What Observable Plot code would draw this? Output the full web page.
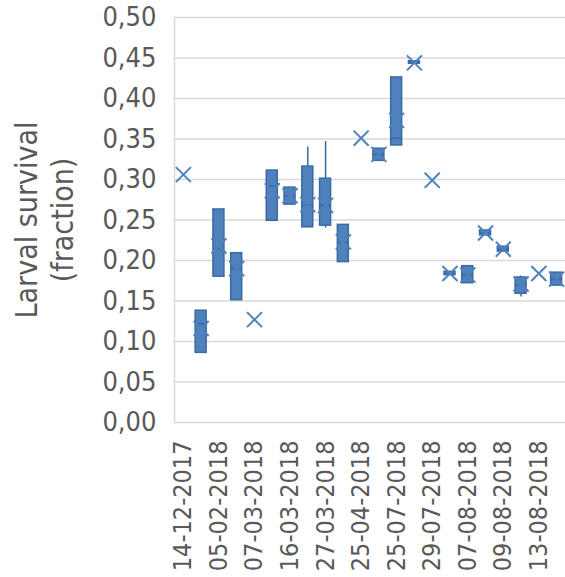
<!DOCTYPE html>
<html>
<head>
<meta charset="utf-8">
<script src="https://cdn.jsdelivr.net/npm/d3@7"></script>
<script src="https://cdn.jsdelivr.net/npm/@observablehq/plot@0.6"></script>
<style>
  html, body { margin: 0; padding: 0; background: #fff; overflow: hidden; }
</style>
</head>
<body>
<div id="chart"></div>
<script>
// Sample index (one box per sampling event); only every other one is labelled
const sampleIndex = d3.range(22);
const tickLabels = ["14-12-2017","05-02-2018","07-03-2018","16-03-2018","27-03-2018","25-04-2018","25-07-2018","29-07-2018","07-08-2018","09-08-2018","13-08-2018"];
const yTicks = [0,0.05,0.10,0.15,0.20,0.25,0.30,0.35,0.40,0.45,0.50];

// Box-plot statistics per sample (null = single value, no box)
const meanVal   = [0.306,0.116,0.218,0.190,0.127,0.286,0.280,0.269,0.268,0.223,0.351,0.331,0.373,0.444,0.299,0.184,0.182,0.234,0.214,0.171,0.184,0.177];
const q1Val     = [null, 0.086,0.180,0.151,null, 0.249,0.269,0.241,0.243,0.198,null, 0.323,0.342,0.443,null, 0.182,0.172,0.231,0.211,0.159,null, 0.169];
const q3Val     = [null, 0.138,0.263,0.209,null, 0.311,0.290,0.316,0.301,0.244,null, 0.338,0.426,0.446,null, 0.186,0.193,0.237,0.217,0.179,null, 0.185];
const medianVal = [null, 0.122,0.214,0.190,null, 0.292,0.280,0.268,0.268,0.222,null, 0.331,0.351,0.444,null, 0.184,0.182,0.234,0.214,0.169,null, 0.177];
const whiskMin  = [null, null, null, null, null, null, null, null, 0.240,null, null, null, null, null, null, null, null, null, null, 0.155,null, null];
const whiskMax  = [null, null, null, null, null, null, null, 0.340,0.347,null, null, null, null, null, null, null, null, null, null, 0.181,null, null];

const rows = sampleIndex.map(i => ({
  i, mean: meanVal[i], q1: q1Val[i], q3: q3Val[i], median: medianVal[i],
  lo: whiskMin[i] ?? q1Val[i], hi: whiskMax[i] ?? q3Val[i]
}));
const boxes = rows.filter(d => d.q1 != null);
const whiskers = rows.filter(d => whiskMin[d.i] != null || whiskMax[d.i] != null);
const labelRows = tickLabels.map((t, k) => ({ i: k * 2, t }));

const blue = "#4f81bd", dark = "#3a6aa3", grid = "#d9d9d9", txt = "#595959";
const font = "'DejaVu Sans Condensed', 'DejaVu Sans', sans-serif";

const chart = Plot.plot({
  width: 565,
  height: 577,
  marginTop: 17,
  marginBottom: 155,
  marginLeft: 174,
  marginRight: 0,
  style: { fontFamily: font, color: txt, background: "#fff", overflow: "hidden" },
  x: { type: "band", domain: sampleIndex, padding: 0, round: false, axis: null },
  y: { domain: [0, 0.5] },
  marks: [
    Plot.ruleY(yTicks, { stroke: grid, strokeWidth: 1.5 }),
    Plot.frame({ anchor: "left", stroke: grid, strokeWidth: 1.5 }),
    Plot.axisY(yTicks, {
      tickSize: 0, tickPadding: 18, fontSize: 27,
      tickFormat: d => d.toFixed(2).replace(".", ","), label: null
    }),
    Plot.text(labelRows, {
      x: "i", text: "t", frameAnchor: "bottom", dy: 18, rotate: -90,
      textAnchor: "end", lineAnchor: "middle", fontSize: 25, fill: txt
    }),
    Plot.text(["Larval survival\n(fraction)"], {
      frameAnchor: "left", rotate: -90, dx: -131, fontSize: 30,
      lineHeight: 1.2, textAnchor: "middle", lineAnchor: "middle", fill: txt
    }),
    Plot.ruleX(whiskers, { x: "i", y1: "lo", y2: "hi", stroke: dark, strokeWidth: 1.5 }),
    Plot.barY(boxes, { x: "i", y1: "q1", y2: "q3", fill: blue, stroke: dark, strokeWidth: 1.5, insetLeft: 3.4, insetRight: 3.4 }),
    Plot.tickY(boxes, { x: "i", y: "median", stroke: dark, strokeWidth: 1.5, insetLeft: 3.4, insetRight: 3.4 }),
    Plot.dot(rows, { x: "i", y: "mean", symbol: "times", r: 6.9, stroke: blue, strokeWidth: 2 })
  ]
});
document.getElementById("chart").appendChild(chart);
</script>
</body>
</html>
